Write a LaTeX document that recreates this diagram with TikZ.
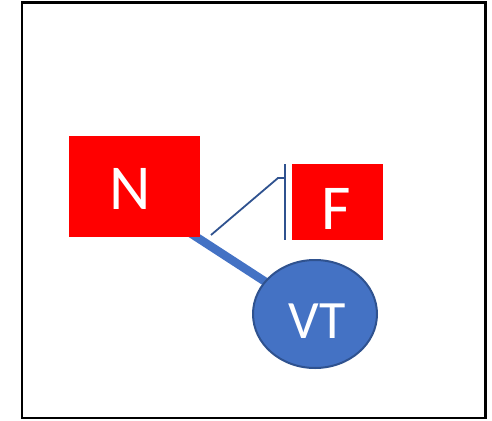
\documentclass[tikz,border=0pt]{standalone}
\usepackage{fontspec}
\setmainfont{Carlito}
\usetikzlibrary{backgrounds,shapes.geometric}
\definecolor{boxred}{HTML}{FF0000}
\definecolor{vtblue}{HTML}{4472C4}
\definecolor{vtedge}{HTML}{2F528F}
\tikzset{
  redbox/.style={draw=none, fill=boxred, text=white, inner sep=0pt, anchor=north west},
  vtnode/.style={ellipse, draw=vtedge, line width=2pt, fill=vtblue, text=white, inner sep=0pt},
  thinlink/.style={draw=vtedge, line width=1.8pt},
  thicklink/.style={draw=vtblue, line width=8.5pt},
  frame/.style={draw=black, line width=2.4pt},
  labtext/.style={text=white, inner sep=0pt}
}
\begin{document}
\begin{tikzpicture}[x=1pt,y=-1pt]
\useasboundingbox (0,0) rectangle (492,420);
\draw[frame] (22,2.5) rectangle (485.5,418);
% N box
\node[redbox, minimum width=131pt, minimum height=101pt] (N) at (68.7,136) {};
\node[labtext, font=\fontsize{64}{64}\selectfont] (Nlab) at (130.5,188.5) {N};
% F box
\node[redbox, minimum width=90.7pt, minimum height=76pt] (F) at (292,164) {};
\node[labtext, font=\fontsize{64}{64}\selectfont] (Flab) at (336,209) {F};
% VT ellipse
\node[vtnode, minimum width=124pt, minimum height=108pt] (VT) at (315,314) {};
\node[labtext, font=\fontsize{54}{54}\selectfont] (VTlab) at (317,321.5) {VT};
% thick link behind
\coordinate (s1) at (191,233.5);
\begin{scope}[on background layer]
\draw[thicklink] (s1) -- (VT.center);
\end{scope}
% inhibition link
\coordinate (t0) at (211,235);
\coordinate (t1) at (278,178);
\coordinate (bar) at (285,178);
\coordinate (barTop) at (285,164);
\coordinate (barBot) at (285,239.5);
\draw[thinlink] (t0) -- (t1) -- (bar);
\draw[thinlink, line width=2pt] (barTop) -- (barBot);
\end{tikzpicture}
\end{document}
